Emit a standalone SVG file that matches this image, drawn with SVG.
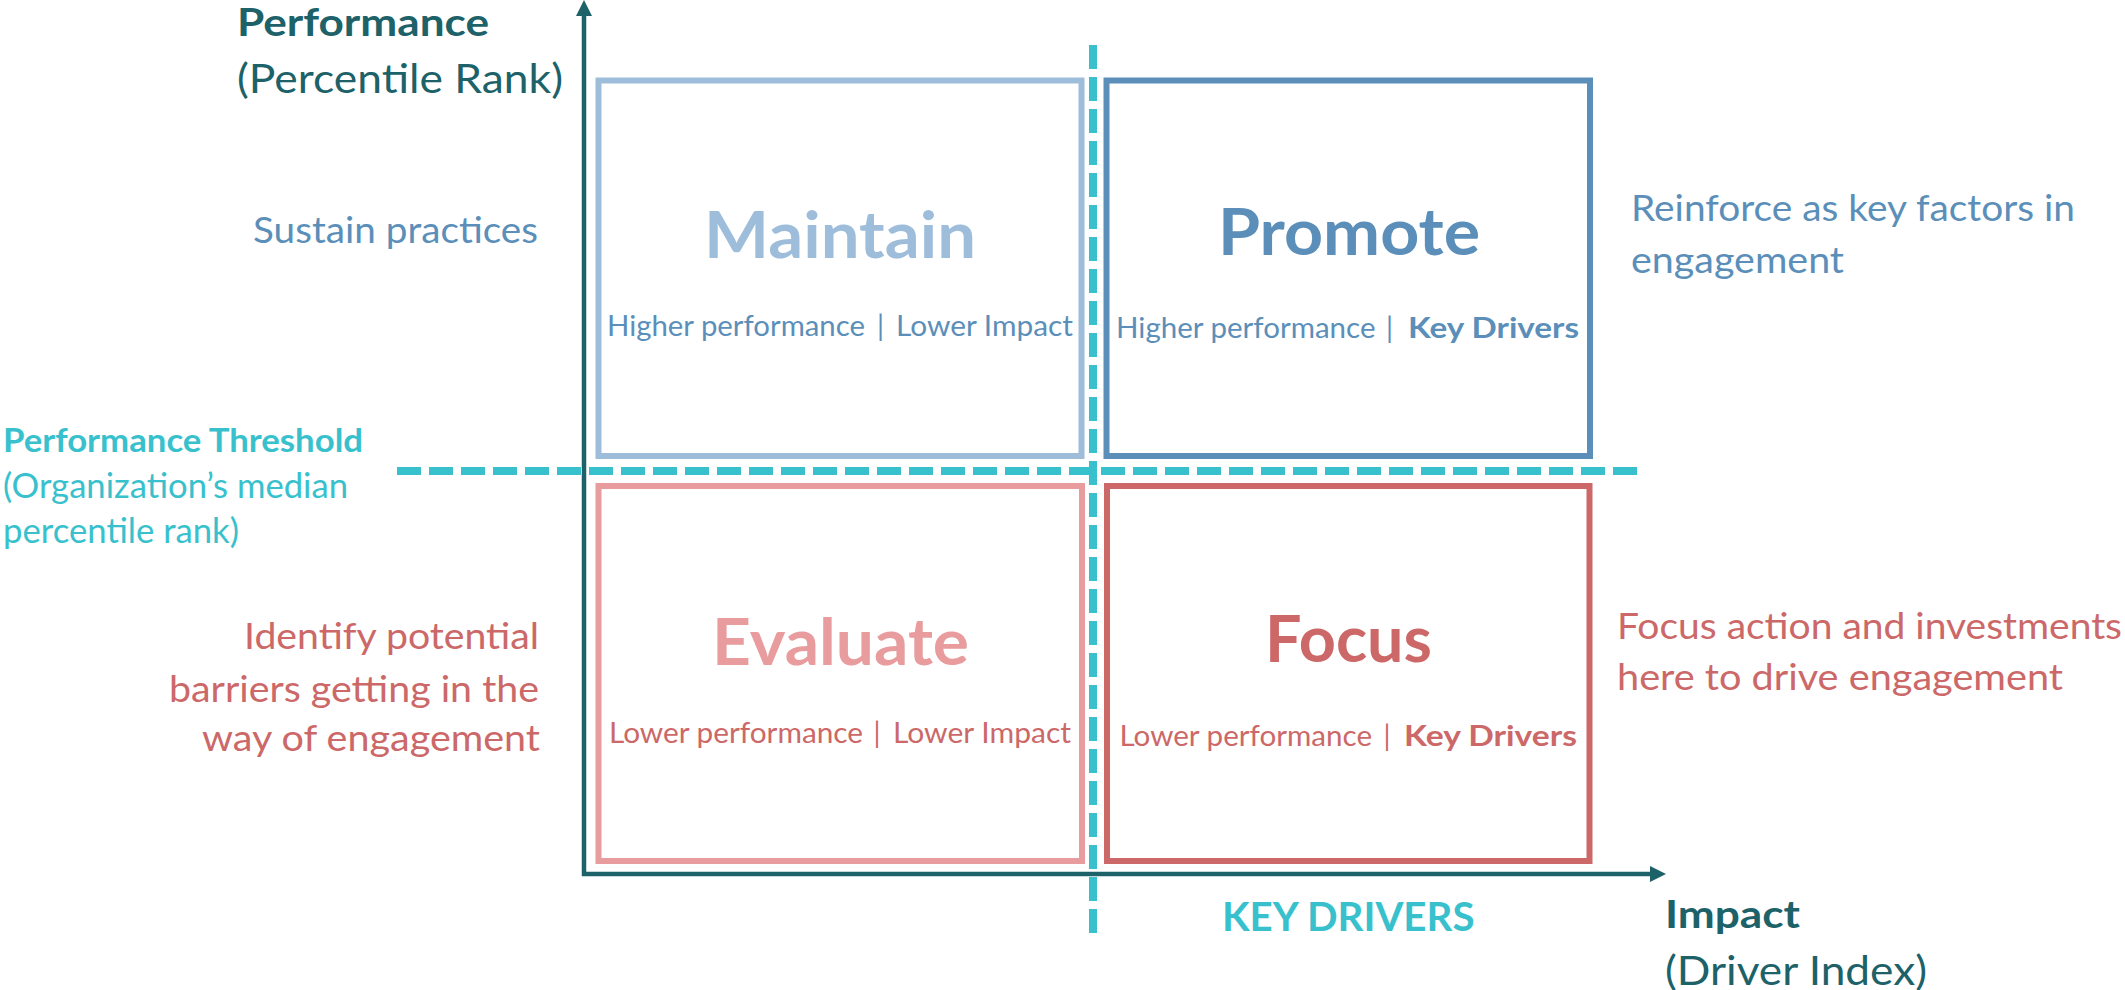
<svg xmlns="http://www.w3.org/2000/svg" width="2125" height="990" viewBox="0 0 2125 990">
  <defs>
    <style>
      text { font-family: Lato, "Open Sans", "Liberation Sans", sans-serif; }
      .b { font-weight: 700; }
      .title { font-size: 65px; font-weight: 700; text-anchor: start; }
      .sub { font-size: 28px; }
      .side { font-size: 37px; }
      .axis { fill: #1D6169; }
      .box { fill: none; stroke-width: 6; }
      .dash { stroke: #38C1CD; stroke-width: 8; stroke-dasharray: 24 8; fill: none; }
      .axisline { stroke: #1D6169; stroke-width: 4.5; fill: none; marker-end: url(#arrow); }
      .c-lb { fill: #9DBDDA; }
      .c-mb { fill: #5B8FB9; }
      .c-lp { fill: #E89C9E; }
      .c-rd { fill: #CC6868; }
      .c-cy { fill: #38C1CD; }
    </style>
    <marker id="arrow" viewBox="0 0 16 16" markerWidth="16" markerHeight="16" refX="1" refY="8" orient="auto" markerUnits="userSpaceOnUse">
      <path d="M0,0 L16,8 L0,16 z" fill="#1D6169"/>
    </marker>
  </defs>
  <rect width="2125" height="990" fill="#ffffff"/>

  <!-- threshold lines and axes -->
  <g id="connectors">
    <line class="dash" x1="397" y1="471" x2="1640" y2="471"/>
    <line class="dash" x1="1093" y1="45" x2="1093" y2="934"/>
    <line class="axisline" x1="584" y1="876" x2="584" y2="15"/>
    <line class="axisline" x1="582" y1="874" x2="1651" y2="874"/>
  </g>

  <!-- quadrants -->
  <g id="maintain">
    <rect class="box" x="598.5" y="80.5" width="483" height="375.5" stroke="#9DBDDA"/>
    <text class="title c-lb" x="704" y="258" textLength="272" lengthAdjust="spacingAndGlyphs">Maintain</text>
    <text class="sub c-mb" y="336"><tspan x="607" textLength="258" lengthAdjust="spacingAndGlyphs">Higher performance</tspan><tspan x="877">|</tspan><tspan x="896" textLength="177" lengthAdjust="spacingAndGlyphs">Lower Impact</tspan></text>
  </g>

  <g id="promote">
    <rect class="box" x="1106.5" y="80.5" width="483.5" height="375.5" stroke="#5B8FB9"/>
    <text class="title c-mb" x="1218" y="255" textLength="262" lengthAdjust="spacingAndGlyphs">Promote</text>
    <text class="sub c-mb" y="338"><tspan x="1116" textLength="259.5" lengthAdjust="spacingAndGlyphs">Higher performance</tspan><tspan x="1386">|</tspan><tspan class="b" x="1408" textLength="171" lengthAdjust="spacingAndGlyphs">Key Drivers</tspan></text>
  </g>

  <g id="evaluate">
    <rect class="box" x="598.5" y="486" width="483.5" height="375" stroke="#E89C9E"/>
    <text class="title c-lp" x="712" y="665" textLength="257" lengthAdjust="spacingAndGlyphs">Evaluate</text>
    <text class="sub c-rd" y="743"><tspan x="609" textLength="254" lengthAdjust="spacingAndGlyphs">Lower performance</tspan><tspan x="873.5">|</tspan><tspan x="893" textLength="178" lengthAdjust="spacingAndGlyphs">Lower Impact</tspan></text>
  </g>

  <g id="focus">
    <rect class="box" x="1107" y="486" width="482.5" height="375" stroke="#CC6868"/>
    <text class="title c-rd" x="1265" y="662" textLength="167" lengthAdjust="spacingAndGlyphs">Focus</text>
    <text class="sub c-rd" y="746"><tspan x="1119.5" textLength="252.5" lengthAdjust="spacingAndGlyphs">Lower performance</tspan><tspan x="1383.5">|</tspan><tspan class="b" x="1404" textLength="173" lengthAdjust="spacingAndGlyphs">Key Drivers</tspan></text>
  </g>

  <!-- side notes -->
  <g id="note-maintain">
    <text class="side c-mb" x="253" y="243" textLength="285" lengthAdjust="spacingAndGlyphs">Sustain practices</text>
  </g>

  <g id="note-promote">
    <text class="side c-mb" x="1631" y="221" textLength="444" lengthAdjust="spacingAndGlyphs">Reinforce as key factors in</text>
    <text class="side c-mb" x="1631" y="273" textLength="213" lengthAdjust="spacingAndGlyphs">engagement</text>
  </g>

  <g id="note-evaluate">
    <text class="side c-rd" x="539" y="649" text-anchor="end" textLength="295" lengthAdjust="spacingAndGlyphs">Identify potential</text>
    <text class="side c-rd" x="539" y="702" text-anchor="end" textLength="370" lengthAdjust="spacingAndGlyphs">barriers getting in the</text>
    <text class="side c-rd" x="540" y="751" text-anchor="end" textLength="338" lengthAdjust="spacingAndGlyphs">way of engagement</text>
  </g>

  <g id="note-focus">
    <text class="side c-rd" x="1617" y="639" textLength="505" lengthAdjust="spacingAndGlyphs">Focus action and investments</text>
    <text class="side c-rd" x="1617" y="690" textLength="446" lengthAdjust="spacingAndGlyphs">here to drive engagement</text>
  </g>

  <g id="threshold-label">
    <text class="c-cy b" x="3" y="452" font-size="33" textLength="360" lengthAdjust="spacingAndGlyphs">Performance Threshold</text>
    <text class="c-cy" x="3" y="498" font-size="34" textLength="345" lengthAdjust="spacingAndGlyphs">(Organization’s median</text>
    <text class="c-cy" x="3" y="543" font-size="34" textLength="236" lengthAdjust="spacingAndGlyphs">percentile rank)</text>
  </g>

  <g id="key-drivers-label">
    <text class="c-cy b" x="1222" y="931" font-size="40" textLength="252.5" lengthAdjust="spacingAndGlyphs">KEY DRIVERS</text>
  </g>

  <!-- axis titles -->
  <g id="y-axis-label">
    <text class="axis b" x="237" y="36" font-size="38" textLength="252" lengthAdjust="spacingAndGlyphs">Performance</text>
    <text class="axis" x="237" y="93" font-size="41" textLength="326" lengthAdjust="spacingAndGlyphs">(Percentile Rank)</text>
  </g>

  <g id="x-axis-label">
    <text class="axis b" x="1665" y="928" font-size="39" textLength="135" lengthAdjust="spacingAndGlyphs">Impact</text>
    <text class="axis" x="1665" y="985" font-size="41" textLength="262" lengthAdjust="spacingAndGlyphs">(Driver Index)</text>
  </g>
</svg>
